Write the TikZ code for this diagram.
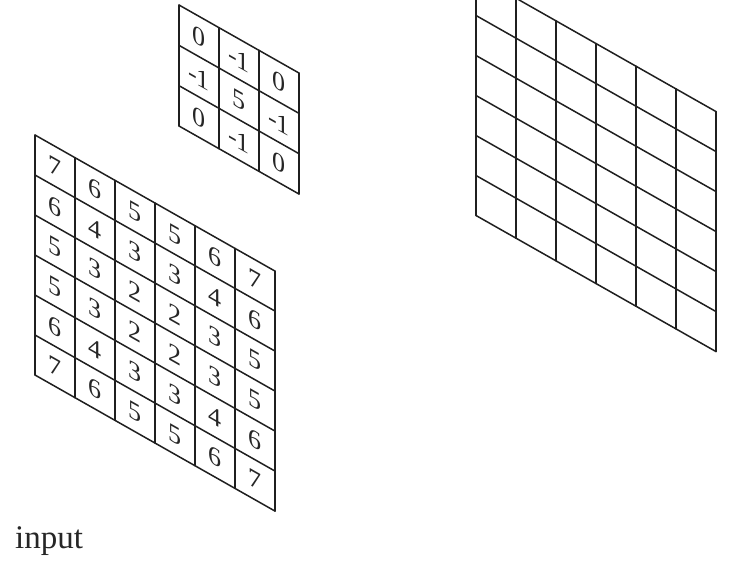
\documentclass[tikz,border=0pt]{standalone}
\usepackage{fontspec}
\setmainfont{Liberation Serif}
\begin{document}
\begin{tikzpicture}[x=1pt,y=-1pt,
  gridline/.style={line width=1.5pt, black!88, line cap=round, line join=round},
  cellnum/.style={transform shape, font=\fontsize{26}{26}\selectfont, inner sep=0pt, text=black!85}]
\useasboundingbox (0,0) rectangle (747,560);
\clip (0,0) rectangle (747,560);
% input grid
\begin{scope}[shift={(35,135)}, yslant=-0.567]
  \foreach \i in {0,...,6} \draw[gridline] (40*\i,0) -- (40*\i,240);
  \foreach \j in {0,...,6} \draw[gridline] (0,40*\j) -- (240,40*\j);
  \foreach \row [count=\r] in {{7,6,5,5,6,7},{6,4,3,3,4,6},{5,3,2,2,3,5},{5,3,2,2,3,5},{6,4,3,3,4,6},{7,6,5,5,6,7}}
    \foreach \v [count=\c] in \row
      \node[cellnum] (in-\r-\c) at (40*\c-20,40*\r-20) {\v};
\end{scope}
% kernel
\begin{scope}[shift={(179,5)}, yslant=-0.567]
  \foreach \i in {0,...,3} \draw[gridline] (40*\i,0) -- (40*\i,121);
  \foreach \j in {0,...,3} \draw[gridline] (0,40.33*\j) -- (120,40.33*\j);
  \foreach \row [count=\r] in {{0,-1,0},{-1,5,-1},{0,-1,0}}
    \foreach \v [count=\c] in \row
      \node[cellnum] (k-\r-\c) at (40*\c-20,40.33*\r-20) {\v};
\end{scope}
% output grid
\begin{scope}[shift={(476,-24.5)}, yslant=-0.567]
  \foreach \i in {0,...,6} \draw[gridline] (40*\i,0) -- (40*\i,240);
  \foreach \j in {0,...,6} \draw[gridline] (0,40*\j) -- (240,40*\j);
\end{scope}
\node[anchor=base west, font=\fontsize{33}{33}\selectfont, inner sep=0pt, text=black!85] (inputlabel) at (15,548) {input};
\end{tikzpicture}
\end{document}
